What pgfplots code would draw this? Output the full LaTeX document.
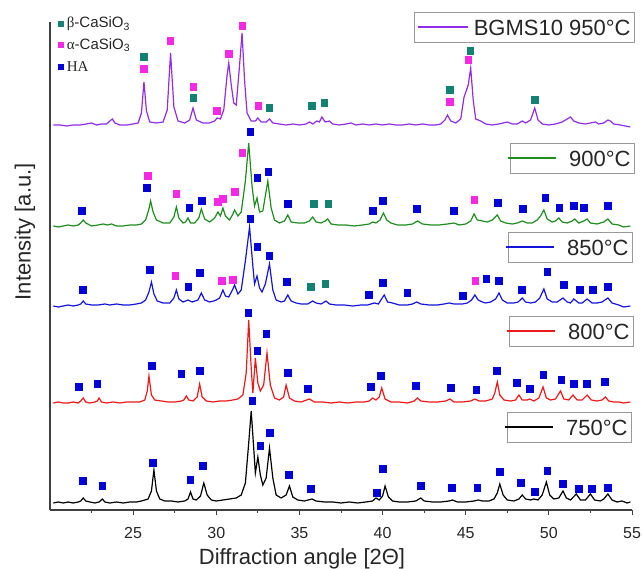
\documentclass[border=0pt]{standalone}
\usepackage{pgfplots}
\pgfplotsset{compat=1.18}
\usepackage{fontspec}
\setmainfont{Liberation Sans}
\newfontfamily\serif{Liberation Serif}
\definecolor{cpur}{RGB}{145,45,230}
\definecolor{cgrn}{RGB}{30,140,30}
\definecolor{cblu}{RGB}{20,20,220}
\definecolor{cred}{RGB}{235,25,25}
\definecolor{cteal}{RGB}{20,130,115}
\definecolor{cmag}{RGB}{245,40,230}
\definecolor{cha}{RGB}{0,0,215}
\begin{document}
\begin{tikzpicture}
\begin{axis}[
  scale only axis, width=582pt, height=488pt,
  xmin=20, xmax=55, ymin=0, ymax=488,
  clip=false,
  axis x line*=bottom, axis y line*=left,
  axis line style={line width=1.3pt, black!75},
  xtick={25,30,...,55}, minor xtick={22.5,27.5,...,52.5},
  ytick=\empty,
  tick align=outside, major tick length=5pt, minor tick length=3pt,
  tick style={line width=1pt, black!75},
  /pgf/number format/assume math mode=true,
  xticklabel style={font=\fontsize{16}{18}\selectfont, text=black!85, yshift=-9pt},
  xlabel={Diffraction angle [2Θ]},
  ylabel={Intensity [a.u.]},
  label style={font=\fontsize{22}{24}\selectfont, text=black!85},
  xlabel style={at={(axis description cs:0.433,0)}, anchor=center, yshift=-49pt},
  ylabel style={at={(axis description cs:0,0.57)}, anchor=center, rotate=0, yshift=25pt},
]
\coordinate (O) at (rel axis cs:0,0);
% 750 C
\addplot[black, line width=1.2pt] table[y expr=\thisrow{y}+7] {
x y
20.2 0
20.5 1
20.8 0
21.1 1
21.4 0
21.7 1
21.85 2
22.0 5
22.15 2
22.4 1
22.7 0
22.95 1
23.15 4
23.3 1
23.6 0
24.0 1
24.4 0
24.8 1
25.2 1
25.5 2
25.7 3
25.9 4
26.1 12
26.25 33
26.4 12
26.6 4
26.9 2
27.3 2
27.7 1
28.1 2
28.3 4
28.45 11
28.6 4
28.8 3
29.05 7
29.25 20
29.45 8
29.7 3
30.0 2
30.4 3
30.8 4
31.2 5
31.5 8
31.75 20
31.95 60
32.1 92
32.25 55
32.35 30
32.5 46
32.65 28
32.8 18
33.0 25
33.2 55
33.4 25
33.6 8
33.9 5
34.2 8
34.4 17
34.6 6
34.9 3
35.3 2
35.75 4
36.0 2
36.5 1
37.0 1
37.5 0
38.0 1
38.5 0
39.0 1
39.4 2
39.6 5
39.8 3
40.0 7
40.15 17
40.35 6
40.6 2
41.0 1
41.5 1
42.0 2
42.3 5
42.5 2
43.0 1
43.5 1
44.0 2
44.2 3
44.5 1
45.0 1
45.5 2
45.75 3
46.0 2
46.4 2
46.7 4
46.9 10
47.05 19
47.25 8
47.5 3
47.9 2
48.2 4
48.4 8
48.6 4
48.9 3
49.1 4
49.35 3
49.6 8
49.85 21
50.05 8
50.3 4
50.6 5
50.85 12
51.05 5
51.3 3
51.65 9
51.9 3
52.2 3
52.5 9
52.75 3
53.1 2
53.3 4
53.55 9
53.8 3
54.1 1
54.4 2
54.7 0
54.9 1
};
% 800 C
\addplot[cred, line width=1.2pt] table[y expr=\thisrow{y}+107] {
x y
20.2 0
20.5 1
20.8 0
21.1 0
21.4 1
21.7 0
21.85 2
22.0 5
22.15 1
22.4 0
22.7 1
22.85 2
22.95 5
23.1 1
23.4 0
23.8 1
24.2 0
24.6 1
25.0 1
25.4 1
25.7 3
25.85 12
25.95 27
26.1 8
26.3 3
26.7 2
27.1 1
27.5 1
27.9 2
28.05 3
28.2 7
28.35 3
28.6 2
28.85 6
29.0 19
29.15 6
29.4 2
29.8 1
30.2 2
30.6 2
31.0 3
31.3 4
31.6 8
31.8 30
31.95 83
32.1 35
32.2 10
32.35 45
32.5 20
32.65 12
32.85 18
33.05 50
33.25 18
33.5 5
33.8 3
34.05 6
34.2 18
34.4 5
34.7 2
35.1 1
35.6 4
35.9 1
36.4 1
36.9 0
37.4 1
37.9 0
38.4 1
38.9 1
39.2 2
39.4 5
39.6 3
39.8 6
39.95 15
40.15 4
40.5 1
41.0 1
41.5 0
41.9 2
42.1 5
42.3 2
42.8 1
43.3 1
43.8 2
44.05 4
44.3 1
44.8 1
45.3 2
45.55 4
45.8 2
46.2 2
46.6 4
46.75 10
46.9 21
47.05 8
47.3 3
47.7 2
48.0 3
48.2 8
48.4 3
48.7 3
48.85 4
49.1 2
49.4 5
49.65 16
49.85 5
50.1 3
50.4 4
50.7 12
50.9 4
51.2 3
51.45 8
51.7 3
52.0 3
52.3 8
52.55 3
52.9 2
53.2 3
53.4 6
53.6 2
53.9 1
54.2 1
54.5 0
54.9 1
};
% 850 C
\addplot[cblu, line width=1.2pt] table[y expr=\thisrow{y}+204] {
x y
20.2 0
20.5 -1
20.8 0
21.1 1
21.4 0
21.7 1
21.85 2
22.0 5
22.15 2
22.5 1
22.9 1
23.3 2
23.6 1
24.0 2
24.4 1
24.8 1
25.2 2
25.5 3
25.75 6
25.95 14
26.1 24
26.25 12
26.45 5
26.8 3
27.2 3
27.45 8
27.6 16
27.75 7
28.0 4
28.3 6
28.55 4
28.9 6
29.1 13
29.3 6
29.6 4
29.85 5
30.0 6
30.2 8
30.4 16
30.55 10
30.75 9
31.0 17
31.1 21
31.3 12
31.5 16
31.75 45
32.0 79
32.2 40
32.3 22
32.45 30
32.6 18
32.75 14
32.95 22
33.2 42
33.4 16
33.6 6
33.9 4
34.1 5
34.3 11
34.5 5
34.8 3
35.1 2
35.5 2
35.8 5
36.0 3
36.3 2
36.6 5
36.8 2
37.2 1
37.7 1
38.2 0
38.7 1
39.1 1
39.5 3
39.75 2
39.9 6
40.1 11
40.3 4
40.6 3
41.0 1
41.5 1
41.8 2
42.05 4
42.3 2
42.8 1
43.3 1
43.7 2
44.0 3
44.3 2
44.8 2
45.1 3
45.35 6
45.55 11
45.75 6
46.0 4
46.2 3
46.5 4
46.8 7
47.0 13
47.2 6
47.5 3
47.9 3
48.15 4
48.4 8
48.6 4
48.9 3
49.2 4
49.45 8
49.7 17
49.9 7
50.2 4
50.5 4
50.85 8
51.1 4
51.3 3
51.5 7
51.8 3
52.0 3
52.3 7
52.6 3
52.9 3
53.2 4
53.55 8
53.8 3
54.2 1
54.5 -1
54.9 0
};
% 900 C
\addplot[cgrn, line width=1.2pt] table[y expr=\thisrow{y}+284] {
x y
20.2 0
20.5 -1
20.8 0
21.1 1
21.4 0
21.7 1
21.85 3
22.0 6
22.15 3
22.5 0
22.9 1
23.2 2
23.45 1
23.7 2
24.0 0
24.4 0
24.8 1
25.2 1
25.5 2
25.75 6
25.95 17
26.05 25
26.2 14
26.4 6
26.8 3
27.2 3
27.45 9
27.6 19
27.75 8
28.0 3
28.15 4
28.3 8
28.45 3
28.7 3
28.95 8
29.1 17
29.3 7
29.6 4
29.9 8
30.1 14
30.25 10
30.4 18
30.55 10
30.8 6
31.0 12
31.1 16
31.3 10
31.5 14
31.75 45
31.95 83
32.15 40
32.3 20
32.45 28
32.6 14
32.8 15
32.95 30
33.1 45
33.3 18
33.5 6
33.8 3
34.1 5
34.3 11
34.5 4
34.9 3
35.3 3
35.6 5
35.8 9
36.0 4
36.3 3
36.55 5
36.7 7
36.9 2
37.3 1
37.8 1
38.3 0
38.8 1
39.2 2
39.4 4
39.6 3
39.85 6
40.05 13
40.25 6
40.5 3
40.9 1
41.4 1
41.8 2
42.1 5
42.4 2
42.9 1
43.4 1
43.9 2
44.3 3
44.6 1
45.0 2
45.3 5
45.5 12
45.7 6
46.0 5
46.3 4
46.6 6
46.9 11
47.1 5
47.4 3
47.8 2
48.1 3
48.4 5
48.7 3
49.0 3
49.3 6
49.5 10
49.7 16
49.9 7
50.2 4
50.4 5
50.6 8
50.8 4
51.1 3
51.4 5
51.55 7
51.8 3
52.1 5
52.3 7
52.5 3
52.9 2
53.3 4
53.55 7
53.8 2
54.2 1
54.5 -1
54.9 0
};
% 950 C
\addplot[cpur, line width=1.2pt] table[y expr=\thisrow{y}+385] {
x y
20.2 0
20.6 0
21.0 -1
21.4 0
21.8 0
22.2 1
22.5 2
22.8 0
23.1 1
23.4 1
23.6 4
23.75 6
23.9 2
24.2 0
24.6 0
25.0 1
25.3 2
25.5 12
25.65 43
25.8 14
26.0 3
26.4 2
26.8 3
27.05 15
27.25 72
27.45 18
27.7 4
28.1 2
28.4 5
28.6 17
28.8 5
29.2 2
29.6 2
29.9 4
30.05 7
30.25 6
30.45 15
30.65 50
30.75 62
30.9 40
31.05 22
31.2 20
31.4 60
31.55 92
31.7 45
31.85 12
32.1 4
32.35 4
32.5 7
32.7 3
33.0 3
33.2 6
33.4 2
33.8 1
34.2 0
34.6 1
35.0 0
35.4 1
35.6 3
35.8 1
36.05 4
36.2 3
36.35 8
36.55 3
36.8 4
37.0 1
37.4 0
37.8 1
38.1 2
38.4 0
38.8 1
39.2 0
39.6 1
40.0 0
40.4 1
40.8 0
41.2 0
41.6 1
42.0 0
42.4 1
42.8 0
43.2 0
43.5 1
43.75 5
43.9 10
44.1 4
44.4 2
44.7 6
44.9 28
45.05 35
45.15 40
45.3 57
45.45 25
45.6 6
45.9 4
46.2 1
46.6 0
47.0 1
47.5 3
47.8 1
48.1 1
48.4 4
48.6 2
48.9 5
49.15 17
49.35 5
49.6 1
50.0 0
50.4 1
50.8 3
51.1 6
51.3 8
51.5 4
51.8 2
52.2 1
52.5 2
52.8 3
53.0 1
53.3 2
53.55 5
53.7 4
53.9 1
54.3 0
54.6 -1
54.9 -2
};
% HA markers
\addplot[only marks, mark=square*, mark size=3.3pt, color=cha] coordinates {
(21.98,29) (23.13,24) (26.19,47) (28.42,30) (29.20,44) (32.15,109) (32.63,64) (33.23,77) (34.37,35) (35.69,21)
(39.66,17) (40.02,41) (42.31,24) (44.17,22) (45.68,22) (47.06,38) (48.32,27) (49.16,18) (49.89,39) (50.85,26) (51.81,21) (52.59,21) (53.55,22)
(21.74,123) (22.83,126) (26.13,144) (27.88,136) (29.02,139) (31.91,197) (32.45,159) (32.99,176) (34.31,137) (35.51,121)
(39.30,123) (39.90,134) (42.01,124) (44.11,122) (45.62,120) (46.88,139) (48.08,127) (48.86,121) (49.65,135) (50.73,130) (51.51,126) (52.29,126) (53.37,128)
(21.98,220) (26.01,240) (28.30,223) (29.02,237) (32.03,291) (32.45,263) (33.17,254) (34.25,228)
(39.18,215) (40.02,227) (41.47,217) (44.83,214) (46.22,231) (47.00,229) (48.38,220) (49.89,238) (50.91,225) (51.87,220) (52.65,220) (53.55,223)
(21.92,299) (25.83,322) (28.36,302) (29.14,309) (32.03,378) (32.45,332) (33.11,338) (34.31,306)
(39.42,299) (40.02,309) (42.07,301) (44.29,299) (46.94,307) (48.44,301) (49.77,312) (50.61,302) (51.51,304) (52.11,302) (53.55,304)
};
% alpha-CaSiO3 markers
\addplot[only marks, mark=square*, mark size=3.3pt, color=cmag] coordinates {
(27.52,234) (30.34,229) (31.00,230) (45.56,229)
(25.89,334) (27.58,316) (30.10,308) (30.40,311) (31.12,318) (31.55,357) (45.50,310)
(25.65,441) (27.22,469) (28.60,423) (30.04,399) (30.76,456) (31.55,484) (32.51,404) (44.05,408) (45.14,450)
};
% beta-CaSiO3 markers
\addplot[only marks, mark=square*, mark size=3.3pt, color=cteal] coordinates {
(35.69,223) (36.54,226)
(35.87,306) (36.72,306)
(25.65,453) (28.60,412) (33.17,402) (35.75,404) (36.48,407) (44.05,420) (45.26,459) (49.16,410)
};
% key
\addplot[only marks, mark=square*, mark size=2.6pt, color=cteal] coordinates {(20.66,486)};
\addplot[only marks, mark=square*, mark size=2.6pt, color=cmag] coordinates {(20.66,465)};
\addplot[only marks, mark=square*, mark size=2.6pt, color=cha] coordinates {(20.66,443)};
\node[anchor=west, inner sep=0pt, font=\fontsize{15}{17}\selectfont, text=black!85] at (axis cs:21.0,486) {{\serif β}-CaSiO\textsubscript{3}};
\node[anchor=west, inner sep=0pt, font=\fontsize{15}{17}\selectfont, text=black!85] at (axis cs:21.0,465) {{\serif α}-CaSiO\textsubscript{3}};
\node[anchor=west, inner sep=0pt, font=\fontsize{15}{17}\selectfont, text=black!85] at (axis cs:21.0,443) {{\serif HA}};
% legend boxes
\tikzset{legbox/.style={draw=gray!80, line width=0.9pt, fill=white, anchor=north east, inner xsep=4pt, inner ysep=0pt, minimum height=30pt, font=\fontsize{22}{24}\selectfont, text=black!85}}
\node[legbox] at (axis cs:55.18,498) {\hspace{55pt}BGMS10 950°C};
\node[legbox] at (axis cs:55.18,367) {\hspace{55pt}900°C};
\node[legbox] at (axis cs:55.06,278) {\hspace{55pt}850°C};
\node[legbox] at (axis cs:55.12,194) {\hspace{55pt}800°C};
\node[legbox] at (axis cs:55.0,98) {\hspace{55pt}750°C};
\draw[color=cpur, line width=1.3pt] (axis cs:42.13,483) -- (axis cs:45.13,483);
\draw[color=cgrn, line width=1.3pt] (axis cs:47.54,352) -- (axis cs:50.43,352);
\draw[color=cblu, line width=1.3pt] (axis cs:47.42,263) -- (axis cs:50.31,263);
\draw[color=cred, line width=1.3pt] (axis cs:47.48,179) -- (axis cs:50.37,179);
\draw[color=black, line width=1.3pt] (axis cs:47.36,83) -- (axis cs:50.25,83);
\end{axis}
\pgfresetboundingbox
\path ([shift={(-50pt,-59pt)}]O) rectangle ([shift={(592pt,510pt)}]O);
\end{tikzpicture}
\end{document}
